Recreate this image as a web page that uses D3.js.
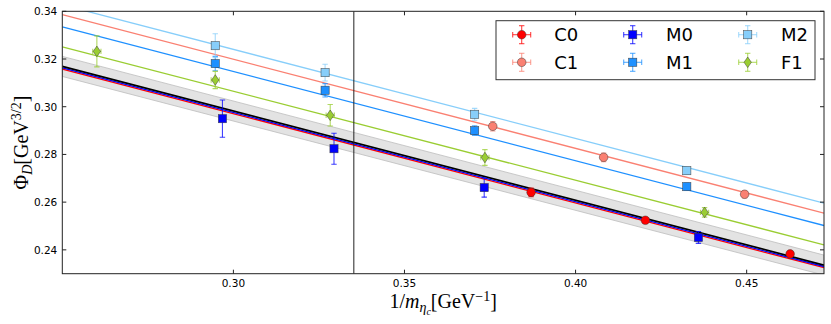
<!DOCTYPE html>
<html><head><meta charset="utf-8">
<script src="https://cdn.jsdelivr.net/npm/d3@7"></script>
<style>body{margin:0;background:#fff}svg{display:block}</style>
</head><body>
<svg id="chart" width="831" height="324"></svg>
<script>
// ---- data ----
const categories = ["C0","C1","M0","M1","M2","F1"];
const colors = ["#ff0000","#fa8072","#0000ff","#1e90ff","#87cefa","#9acd32"];
const shapes = ["circle","circle","square","square","square","diamond"];
const xC0 = [0.3870, 0.4204, 0.4627];
const yC0 = [0.2641, 0.2524, 0.2383];
const eC0 = [0.0018, 0.0012, 0.0010];
const xC1 = [0.3758, 0.4082, 0.4494];
const yC1 = [0.2918, 0.2788, 0.2633];
const eC1 = [0.0020, 0.0018, 0.0015];
const xM0 = [0.2968, 0.3294, 0.3733, 0.4359];
const yM0 = [0.2950, 0.2824, 0.2661, 0.2452];
const eM0 = [0.0078, 0.0065, 0.0040, 0.0025];
const xM1 = [0.2947, 0.3268, 0.3705, 0.4325];
const yM1 = [0.3181, 0.3069, 0.2900, 0.2665];
const eM1 = [0.0030, 0.0028, 0.0020, 0.0015];
const xM2 = [0.2947, 0.3268, 0.3705, 0.4325];
const yM2 = [0.3256, 0.3143, 0.2968, 0.2732];
const eM2 = [0.0050, 0.0035, 0.0025, 0.0015];
const xF1 = [0.2601, 0.2947, 0.3283, 0.3735, 0.4377];
const yF1 = [0.3232, 0.3112, 0.2964, 0.2787, 0.2557];
const eF1 = [0.0065, 0.0036, 0.0045, 0.0033, 0.0020];
const xerrAll = 0.0008;
// fit lines: value at x-domain start and end
const fitStart = [0.3158, 0.3386, 0.3163, 0.3335, 0.3427, 0.3251];
const fitEnd   = [0.2325, 0.2554, 0.2330, 0.2502, 0.2596, 0.2421];
const contStart = 0.3169, contEnd = 0.2336, bandHalf = 0.0042;
const physX = 0.3352;
const xTicks = [0.30, 0.35, 0.40, 0.45];
const yTicks = [0.24, 0.26, 0.28, 0.30, 0.32, 0.34];
const xDomain = [0.25, 0.4726], yDomain = [0.23, 0.34];

const seriesX = [xC0,xC1,xM0,xM1,xM2,xF1];
const seriesY = [yC0,yC1,yM0,yM1,yM2,yF1];
const seriesE = [eC0,eC1,eM0,eM1,eM2,eF1];

// ---- layout ----
const L = 62.3, R = 824, T = 11.3, B = 273.7;
const svg = d3.select("#chart");
const x = d3.scaleLinear().domain(xDomain).range([L, R]);
const y = d3.scaleLinear().domain(yDomain).range([B, T]);

svg.append("defs").append("clipPath").attr("id","clip")
  .append("rect").attr("x",L).attr("y",T).attr("width",R-L).attr("height",B-T);
const plot = svg.append("g").attr("clip-path","url(#clip)");

// band
const bandPts = [[xDomain[0], contStart],[xDomain[1], contEnd]];
plot.append("path")
  .attr("d", d3.area().x(d=>x(d[0])).y0(d=>y(d[1]-bandHalf)).y1(d=>y(d[1]+bandHalf))(bandPts))
  .attr("fill","#e3e3e3").attr("stroke","#bdbdbd").attr("stroke-width",0.8);

const line = d3.line().x(d=>x(d[0])).y(d=>y(d[1]));
const order = [4,1,3,5,0,2];
order.forEach(i=>{
  plot.append("path").attr("d", line([[xDomain[0],fitStart[i]],[xDomain[1],fitEnd[i]]]))
    .attr("stroke", colors[i]).attr("stroke-width", 1.3).attr("fill","none");
});
plot.append("path").attr("d", line(bandPts)).attr("stroke","#000").attr("stroke-width",1.7).attr("fill","none");
plot.append("line").attr("x1",x(physX)).attr("x2",x(physX)).attr("y1",T).attr("y2",B)
  .attr("stroke","#222").attr("stroke-width",1);

function drawMarker(g, shape, cx, cy, color){
  let m;
  if(shape==="circle") m = g.append("circle").attr("cx",cx).attr("cy",cy).attr("r",4.3);
  else if(shape==="square") m = g.append("rect").attr("x",cx-4.1).attr("y",cy-4.1).attr("width",8.2).attr("height",8.2);
  else m = g.append("path").attr("d",`M${cx},${cy-5.3}L${cx+3.7},${cy}L${cx},${cy+5.3}L${cx-3.7},${cy}Z`);
  m.attr("fill",color).attr("stroke","#333").attr("stroke-width",0.6).attr("stroke-opacity",0.8);
}
function drawErr(g, cx, cy, x0, x1, y0, y1, color){
  const a = 0.75;
  const seg = (a1,b1,a2,b2)=>g.append("line").attr("x1",a1).attr("y1",b1).attr("x2",a2).attr("y2",b2)
    .attr("stroke",color).attr("stroke-width",1.1).attr("stroke-opacity",a);
  seg(cx,y0,cx,y1); seg(x0,cy,x1,cy);
  [y0,y1].forEach(v=>seg(cx-2.7,v,cx+2.7,v));
  [x0,x1].forEach(v=>seg(v,cy-2.7,v,cy+2.7));
}

const pts = svg.append("g").attr("clip-path","url(#clip)");
categories.forEach((c,i)=>{
  const g = pts.append("g");
  seriesX[i].forEach((xv,j)=>{
    const yv = seriesY[i][j], e = seriesE[i][j];
    const xe = (c==="F1") ? 0.0012 : xerrAll;
    drawErr(g, x(xv), y(yv), x(xv-xe), x(xv+xe), y(yv-e), y(yv+e), colors[i]);
    drawMarker(g, shapes[i], x(xv), y(yv), colors[i]);
  });
});

// ---- axes ----
const tickFont = "DejaVu Sans, sans-serif";
const axG = svg.append("g");
axG.append("rect").attr("x",L).attr("y",T).attr("width",R-L).attr("height",B-T)
  .attr("fill","none").attr("stroke","#222").attr("stroke-width",1);
const tl = 4;
xTicks.forEach(t=>{
  const px = x(t);
  axG.append("line").attr("x1",px).attr("x2",px).attr("y1",B).attr("y2",B-tl).attr("stroke","#222");
  axG.append("line").attr("x1",px).attr("x2",px).attr("y1",T).attr("y2",T+tl).attr("stroke","#222");
  axG.append("text").attr("x",px).attr("y",B+13).attr("text-anchor","middle")
    .attr("font-family",tickFont).attr("font-size",10.5).text(d3.format(".2f")(t));
});
yTicks.forEach(t=>{
  const py = y(t);
  axG.append("line").attr("x1",L).attr("x2",L+tl).attr("y1",py).attr("y2",py).attr("stroke","#222");
  axG.append("line").attr("x1",R).attr("x2",R-tl).attr("y1",py).attr("y2",py).attr("stroke","#222");
  axG.append("text").attr("x",L-5).attr("y",py+3.8).attr("text-anchor","end")
    .attr("font-family",tickFont).attr("font-size",10.5).text(d3.format(".2f")(t));
});

// axis labels
const serif = "Liberation Serif, DejaVu Serif, serif";
const xl = svg.append("text").attr("x",(L+R)/2).attr("y",308).attr("text-anchor","middle")
  .attr("font-family",serif).attr("font-size",20);
xl.append("tspan").text("1/");
xl.append("tspan").attr("font-style","italic").text("m");
xl.append("tspan").attr("font-style","italic").attr("font-size",14).attr("dy",4).text("η");
xl.append("tspan").attr("font-style","italic").attr("font-size",10).attr("dy",3).text("c");
xl.append("tspan").attr("dy",-7).text("[GeV");
xl.append("tspan").attr("font-size",14).attr("dy",-7).text("−1");
xl.append("tspan").attr("dy",7).text("]");

const yl = svg.append("text").attr("transform",`translate(28,${(T+B)/2}) rotate(-90)`)
  .attr("text-anchor","middle").attr("font-family",serif).attr("font-size",20);
yl.append("tspan").text("Φ");
yl.append("tspan").attr("font-style","italic").attr("font-size",14).attr("dy",4).text("D");
yl.append("tspan").attr("dy",-4).text("[GeV");
yl.append("tspan").attr("font-size",14).attr("dy",-7).text("3/2");
yl.append("tspan").attr("dy",7).text("]");

// ---- legend ----
const lg = svg.append("g");
lg.append("rect").attr("x",496).attr("y",20.7).attr("width",319).attr("height",59)
  .attr("fill","#fff").attr("stroke","#333").attr("stroke-width",1);
const colX = [521.7, 632.7, 747.7], textX = [554.3, 666, 781], rowY = [34.7, 62.3];
categories.forEach((c,i)=>{
  const col = Math.floor(i/2), row = i%2;
  const cx = colX[col], cy = rowY[row];
  drawErr(lg, cx, cy, cx-9, cx+9, cy-9, cy+9, colors[i]);
  drawMarker(lg, shapes[i], cx, cy, colors[i]);
  lg.append("text").attr("x",textX[col]).attr("y",cy+6.5).attr("font-family",tickFont)
    .attr("font-size",18).text(c);
});
</script>
</body></html>
